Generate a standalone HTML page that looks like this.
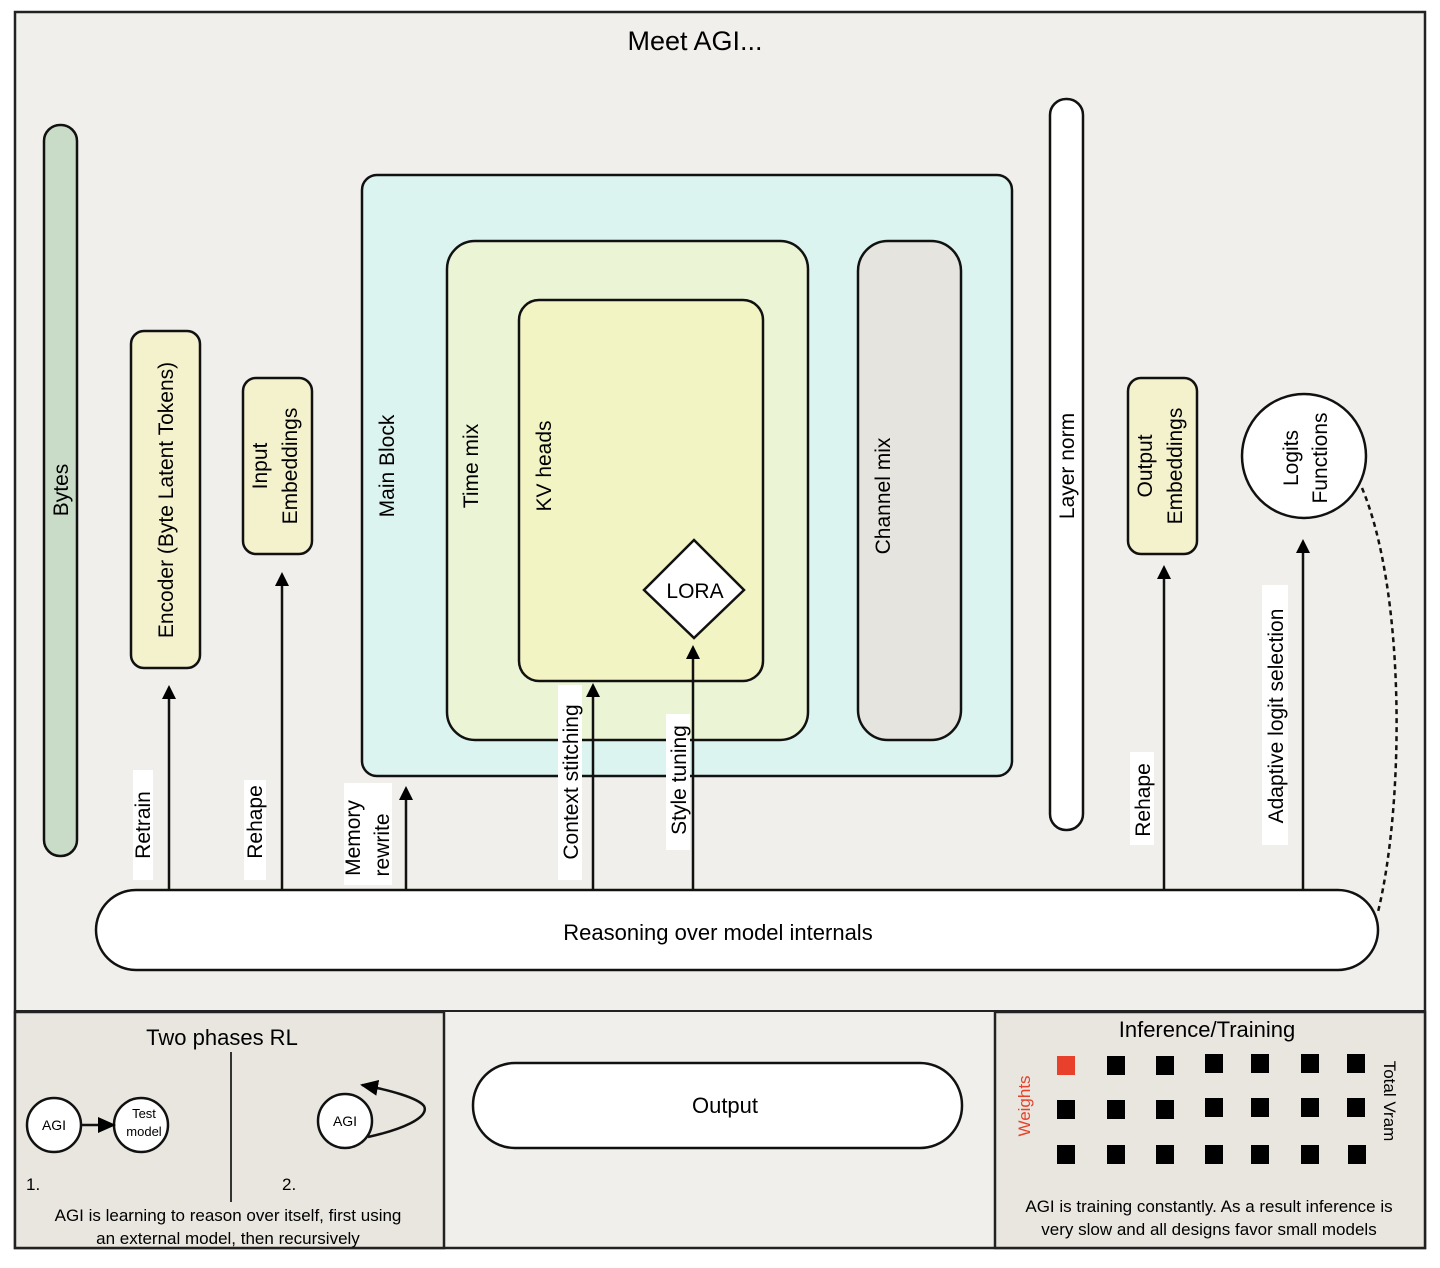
<!DOCTYPE html>
<html><head><meta charset="utf-8"><style>
html,body{margin:0;padding:0;background:#fff;}
svg{display:block;font-family:"Liberation Sans",sans-serif;}
</style></head><body>
<svg width="1440" height="1268" viewBox="0 0 1440 1268" xmlns="http://www.w3.org/2000/svg">
<defs>
<marker id="ah" markerWidth="14" markerHeight="14" refX="7" refY="7" orient="auto" markerUnits="userSpaceOnUse">
<path d="M0,0 L14,7 L0,14 z" fill="#000"/></marker>
<marker id="ah2" markerWidth="18" markerHeight="16" refX="16" refY="8" orient="auto" markerUnits="userSpaceOnUse">
<path d="M0,0 L18,8 L0,16 z" fill="#000"/></marker>
</defs>
<rect x="0" y="0" width="1440" height="1268" fill="#fff"/>
<rect x="15" y="12" width="1410" height="1236" fill="#f0efeb" stroke="#222" stroke-width="2.5"/>
<line x1="15" y1="1011" x2="1425" y2="1011" stroke="#222" stroke-width="2"/>
<text x="695" y="50" font-size="27" text-anchor="middle">Meet AGI...</text>

<rect x="44" y="125" width="33" height="731" rx="16" fill="#c9dcc8" stroke="#111" stroke-width="2.5"/>
<text transform="translate(68,490) rotate(-90)" font-size="21" text-anchor="middle">Bytes</text>
<rect x="131" y="331" width="69" height="337" rx="13" fill="#f4f1cd" stroke="#111" stroke-width="2.5"/>
<text transform="translate(173,500) rotate(-90)" font-size="21" text-anchor="middle">Encoder (Byte Latent Tokens)</text>
<rect x="243" y="378" width="69" height="176" rx="13" fill="#f4f1cd" stroke="#111" stroke-width="2.5"/>
<text transform="translate(267,466) rotate(-90)" font-size="21" text-anchor="middle">Input</text>
<text transform="translate(297,466) rotate(-90)" font-size="21" text-anchor="middle">Embeddings</text>
<rect x="362" y="175" width="650" height="601" rx="15" fill="#dcf4f0" stroke="#111" stroke-width="2.5"/>
<text transform="translate(394,466) rotate(-90)" font-size="21" text-anchor="middle">Main Block</text>
<rect x="447" y="241" width="361" height="499" rx="28" fill="#ebf5d5" stroke="#111" stroke-width="2.5"/>
<text transform="translate(478,466) rotate(-90)" font-size="21" text-anchor="middle">Time mix</text>
<rect x="519" y="300" width="244" height="381" rx="20" fill="#f3f4c4" stroke="#111" stroke-width="2.5"/>
<text transform="translate(551,466) rotate(-90)" font-size="21" text-anchor="middle">KV heads</text>
<polygon points="694,540 744,590 694,638 644,590" fill="#fff" stroke="#111" stroke-width="2.5"/>
<text x="695" y="598" font-size="21" text-anchor="middle">LORA</text>
<rect x="858" y="241" width="103" height="499" rx="30" fill="#e5e4df" stroke="#111" stroke-width="2.5"/>
<text transform="translate(890,496) rotate(-90)" font-size="21" text-anchor="middle">Channel mix</text>
<rect x="1050" y="99" width="33" height="731" rx="16" fill="#fff" stroke="#111" stroke-width="2.5"/>
<text transform="translate(1074,466) rotate(-90)" font-size="21" text-anchor="middle">Layer norm</text>
<rect x="1128" y="378" width="69" height="176" rx="13" fill="#f4f1cd" stroke="#111" stroke-width="2.5"/>
<text transform="translate(1152,466) rotate(-90)" font-size="21" text-anchor="middle">Output</text>
<text transform="translate(1182,466) rotate(-90)" font-size="21" text-anchor="middle">Embeddings</text>
<circle cx="1304" cy="456" r="62" fill="#fff" stroke="#111" stroke-width="2.5"/>
<text transform="translate(1298,458) rotate(-90)" font-size="21" text-anchor="middle">Logits</text>
<text transform="translate(1327,458) rotate(-90)" font-size="21" text-anchor="middle">Functions</text>
<path d="M1362,488 C1405,590 1405,800 1378,912" fill="none" stroke="#111" stroke-width="2.5" stroke-dasharray="5,4"/>

<rect x="96" y="890" width="1282" height="80" rx="40" fill="#fff" stroke="#111" stroke-width="2.5"/>
<text x="718" y="940" font-size="22" text-anchor="middle">Reasoning over model internals</text>

<g font-size="21">
<rect x="133" y="770" width="20" height="110" fill="#fff"/>
<text transform="translate(150,825) rotate(-90)" text-anchor="middle">Retrain</text>
<rect x="244" y="780" width="22" height="100" fill="#fff"/>
<text transform="translate(262,822) rotate(-90)" text-anchor="middle">Rehape</text>
<rect x="344" y="783" width="48" height="102" fill="#fff"/>
<text transform="translate(360,838) rotate(-90)" text-anchor="middle">Memory</text>
<text transform="translate(389,845) rotate(-90)" text-anchor="middle">rewrite</text>
<rect x="558" y="685" width="24" height="195" fill="#fff"/>
<text transform="translate(578,782) rotate(-90)" text-anchor="middle">Context stitching</text>
<rect x="666" y="714" width="24" height="136" fill="#fff"/>
<text transform="translate(686,780) rotate(-90)" text-anchor="middle">Style tuning</text>
<rect x="1130" y="752" width="24" height="93" fill="#fff"/>
<text transform="translate(1150,800) rotate(-90)" text-anchor="middle">Rehape</text>
<rect x="1262" y="585" width="26" height="260" fill="#fff"/>
<text transform="translate(1283,716) rotate(-90)" text-anchor="middle">Adaptive logit selection</text>
</g>
<g stroke="#111" stroke-width="2.5" fill="none" marker-end="url(#ah)">
<line x1="169" y1="890" x2="169" y2="692"/>
<line x1="282" y1="890" x2="282" y2="579"/>
<line x1="406" y1="890" x2="406" y2="793"/>
<line x1="593" y1="890" x2="593" y2="690"/>
<line x1="693" y1="890" x2="693" y2="652"/>
<line x1="1164" y1="890" x2="1164" y2="572"/>
<line x1="1303" y1="890" x2="1303" y2="546"/>
</g>

<rect x="15" y="1012" width="429" height="236" fill="#e9e6df" stroke="#222" stroke-width="2.5"/>
<text x="222" y="1045" font-size="22" text-anchor="middle">Two phases RL</text>
<line x1="231" y1="1052" x2="231" y2="1202" stroke="#333" stroke-width="2"/>
<circle cx="54" cy="1125" r="27" fill="#fff" stroke="#111" stroke-width="2.5"/>
<text x="54" y="1130" font-size="14" text-anchor="middle">AGI</text>
<circle cx="141" cy="1125" r="27" fill="#fff" stroke="#111" stroke-width="2.5"/>
<text x="144" y="1118" font-size="13" text-anchor="middle">Test</text>
<text x="144" y="1136" font-size="13" text-anchor="middle">model</text>
<line x1="81" y1="1125" x2="114" y2="1125" stroke="#111" stroke-width="2.5" marker-end="url(#ah2)"/>
<circle cx="345" cy="1121" r="27" fill="#fff" stroke="#111" stroke-width="2.5"/>
<text x="345" y="1126" font-size="14" text-anchor="middle">AGI</text>
<path d="M368,1137 C400,1130 430,1118 424,1106 C418,1098 390,1090 362,1085" fill="none" stroke="#111" stroke-width="2.5" marker-end="url(#ah2)"/>
<text x="26" y="1190" font-size="17">1.</text>
<text x="282" y="1190" font-size="17">2.</text>
<text x="228" y="1221" font-size="17" text-anchor="middle">AGI is learning to reason over itself, first using</text>
<text x="228" y="1244" font-size="17" text-anchor="middle">an external model, then recursively</text>

<rect x="473" y="1063" width="489" height="85" rx="42" fill="#fff" stroke="#111" stroke-width="2.5"/>
<text x="725" y="1113" font-size="22" text-anchor="middle">Output</text>

<rect x="995" y="1012" width="430" height="236" fill="#e9e6df" stroke="#222" stroke-width="2.5"/>
<text x="1207" y="1037" font-size="22" text-anchor="middle">Inference/Training</text>
<g fill="#000">
<rect x="1057" y="1056" width="18" height="19" fill="#e8402a"/>
<rect x="1107" y="1056" width="18" height="19"/><rect x="1156" y="1056" width="18" height="19"/>
<rect x="1205" y="1054" width="18" height="19"/><rect x="1251" y="1054" width="18" height="19"/>
<rect x="1301" y="1054" width="18" height="19"/><rect x="1347" y="1054" width="18" height="19"/>
<rect x="1057" y="1100" width="18" height="19"/><rect x="1107" y="1100" width="18" height="19"/>
<rect x="1156" y="1100" width="18" height="19"/><rect x="1205" y="1098" width="18" height="19"/>
<rect x="1251" y="1098" width="18" height="19"/><rect x="1301" y="1098" width="18" height="19"/>
<rect x="1347" y="1098" width="18" height="19"/>
<rect x="1057" y="1145" width="18" height="19"/><rect x="1107" y="1145" width="18" height="19"/>
<rect x="1156" y="1145" width="18" height="19"/><rect x="1205" y="1145" width="18" height="19"/>
<rect x="1251" y="1145" width="18" height="19"/><rect x="1301" y="1145" width="18" height="19"/>
<rect x="1348" y="1145" width="18" height="19"/>
</g>
<text transform="translate(1030,1106) rotate(-90)" font-size="17" fill="#e8402a" text-anchor="middle">Weights</text>
<text transform="translate(1384,1101) rotate(90)" font-size="17" text-anchor="middle">Total Vram</text>
<text x="1209" y="1212" font-size="17" text-anchor="middle">AGI is training constantly. As a result inference is</text>
<text x="1209" y="1235" font-size="17" text-anchor="middle">very slow and all designs favor small models</text>
</svg>
</body></html>
